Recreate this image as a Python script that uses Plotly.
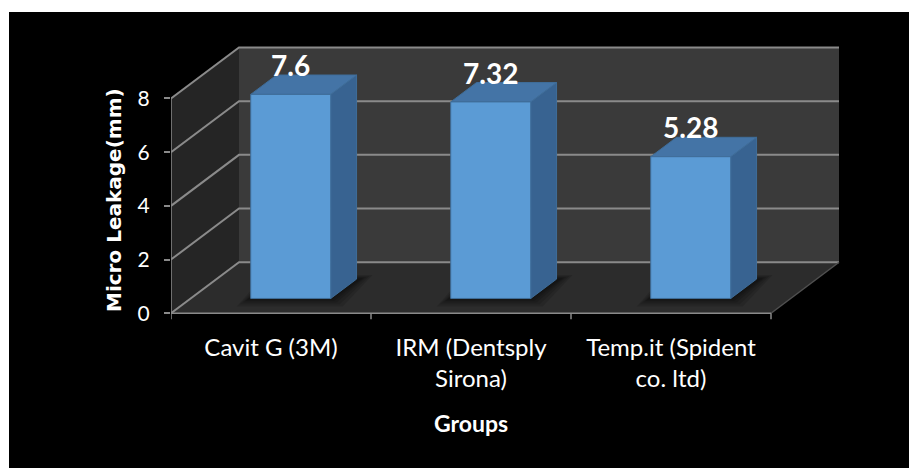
import plotly.graph_objects as go

# ---------------- data ----------------
categories = ["Cavit G (3M)", "IRM (Dentsply<br>Sirona)", "Temp.it (Spident<br>co. ltd)"]
values = [7.6, 7.32, 5.28]
value_labels = ["7.6", "7.32", "5.28"]
y_ticks = [0, 2, 4, 6, 8]
y_tick_labels = ["0", "2", "4", "6", "8"]
x_title = "Groups"
y_title = "Micro Leakage(mm)"

# ---------------- style / geometry ----------------
DX, DY = 0.34, 1.9          # oblique depth offset (data units)
BAR_W = 0.4                  # bar width (category units)
D0, D1 = 0.29, 0.67          # bar front/back depth fractions
Y_TOP = max(y_ticks)
N = len(categories)
X_LO, X_HI = -0.5, N - 0.5

BACK_WALL = "#3a3a3a"
SIDE_WALL = "#252525"
FLOOR = "#2c2c2c"
GRID = "#8a8a8a"
BAR_FRONT = "#5b9bd5"
BAR_TOP = "#4474a6"
BAR_SIDE = "#386391"
BAR_EDGE = "#3f6d99"

L, R, T, B = 171, 38, 34, 144
W, H = 909, 468
pw, ph = W - L - R, H - T - B

fig = go.Figure()


def poly(xs, ys, fill, line_color=None, line_w=0):
    fig.add_trace(go.Scatter(
        x=list(xs) + [xs[0]], y=list(ys) + [ys[0]], mode="lines", fill="toself",
        fillcolor=fill, line=dict(color=line_color or fill, width=line_w),
        hoverinfo="skip", showlegend=False))


def seg(xs, ys, color, w):
    fig.add_trace(go.Scatter(x=xs, y=ys, mode="lines", line=dict(color=color, width=w),
                             hoverinfo="skip", showlegend=False))


# back wall
poly([X_LO + DX, X_HI + DX, X_HI + DX, X_LO + DX], [DY, DY, Y_TOP + DY, Y_TOP + DY], BACK_WALL)
# left side wall
poly([X_LO, X_LO + DX, X_LO + DX, X_LO], [0, DY, Y_TOP + DY, Y_TOP], SIDE_WALL)
# floor
poly([X_LO, X_HI, X_HI + DX, X_LO + DX], [0, 0, DY, DY], FLOOR)

# gridlines on back wall and side wall
gx, gy = [], []
for v in y_ticks:
    gx += [X_LO, X_LO + DX, X_HI + DX, None]
    gy += [v, v + DY, v + DY, None]
seg(gx, gy, GRID, 2)
# floor right edge
seg([X_HI, X_HI + DX], [0, DY], "#505050", 1.5)

# front vertical axis + baseline + category ticks
seg([X_LO, X_LO], [0, Y_TOP], GRID, 1.5)
bx, by = [X_LO - 0.03, X_HI, None], [0, 0, None]
for i in range(N + 1):
    b = X_LO + i
    bx += [b, b, None]
    by += [0, -0.22, None]
seg(bx, by, GRID, 1.5)

# bars
fdx, fdy = D0 * DX, D0 * DY
ddx, ddy = (D1 - D0) * DX, (D1 - D0) * DY
for i, v in enumerate(values):
    xl = i - BAR_W / 2 + fdx
    xr = i + BAR_W / 2 + fdx
    y0 = fdy
    y1 = fdy + v
    # soft shadow on floor (footprint parallelogram, blurred by layering)
    for ex, ey in [(0.06, 0.3), (0.045, 0.22), (0.03, 0.15), (0.018, 0.09), (0.008, 0.04)]:
        poly([xl - ex - 0.01, xr + ex, xr + ddx + ex + 0.02, xl + ddx - ex],
             [y0 - ey, y0 - ey, y0 + ddy + ey * 0.5, y0 + ddy + ey * 0.5],
             "rgba(0,0,0,0.13)")
    # side face
    poly([xr, xr + ddx, xr + ddx, xr], [y0, y0 + ddy, y1 + ddy, y1], BAR_SIDE, BAR_EDGE, 1)
    # top face
    poly([xl, xr, xr + ddx, xl + ddx], [y1, y1, y1 + ddy, y1 + ddy], BAR_TOP, BAR_EDGE, 1)
    # front face
    poly([xl, xr, xr, xl], [y0, y0, y1, y1], BAR_FRONT, BAR_EDGE, 1)
    fig.add_annotation(x=(xl + xr) / 2, y=y1 + ddy, text="<b>%s</b>" % value_labels[i],
                       showarrow=False, yanchor="bottom", yshift=-9,
                       font=dict(family="Lato", size=28, color="white"))

# axis titles
fig.add_annotation(x=(114 - L) / pw, xref="paper", xanchor="center",
                   y=(H - B - 200) / ph, yref="paper", yanchor="middle",
                   text="<b>%s</b>" % y_title, textangle=-90, showarrow=False,
                   font=dict(family="DejaVu Sans", size=20, color="white"))
fig.add_annotation(x=(X_LO + X_HI) / 2, xref="x", xanchor="center",
                   y=(H - B - 423) / ph, yref="paper", yanchor="middle",
                   text="<b>%s</b>" % x_title, showarrow=False,
                   font=dict(family="Lato", size=23, color="white"))

fig.add_shape(type="rect", xref="paper", yref="paper",
              x0=(9 - L) / pw, x1=1.2, y0=-0.7, y1=(H - B - 12) / ph,
              fillcolor="black", line=dict(width=0), layer="below")

fig.update_layout(
    width=W, height=H, margin=dict(l=L, r=R, t=T, b=B),
    paper_bgcolor="white", plot_bgcolor="rgba(0,0,0,0)",
    xaxis=dict(range=[X_LO, 3.0], showgrid=False, zeroline=False, showline=False,
               tickvals=list(range(N)), ticktext=categories, ticks="",
               tickfont=dict(family="Lato", size=24, color="white"), ticklabelstandoff=7),
    yaxis=dict(range=[-0.4, 10.4], showgrid=False, zeroline=False, showline=False,
               tickvals=y_ticks, ticktext=y_tick_labels, ticks="outside", ticklen=6,
               tickcolor=GRID, tickwidth=1.5, ticklabelstandoff=10,
               tickfont=dict(family="Lato", size=21, color="white")),
    showlegend=False,
)

fig.write_html("out.html")
